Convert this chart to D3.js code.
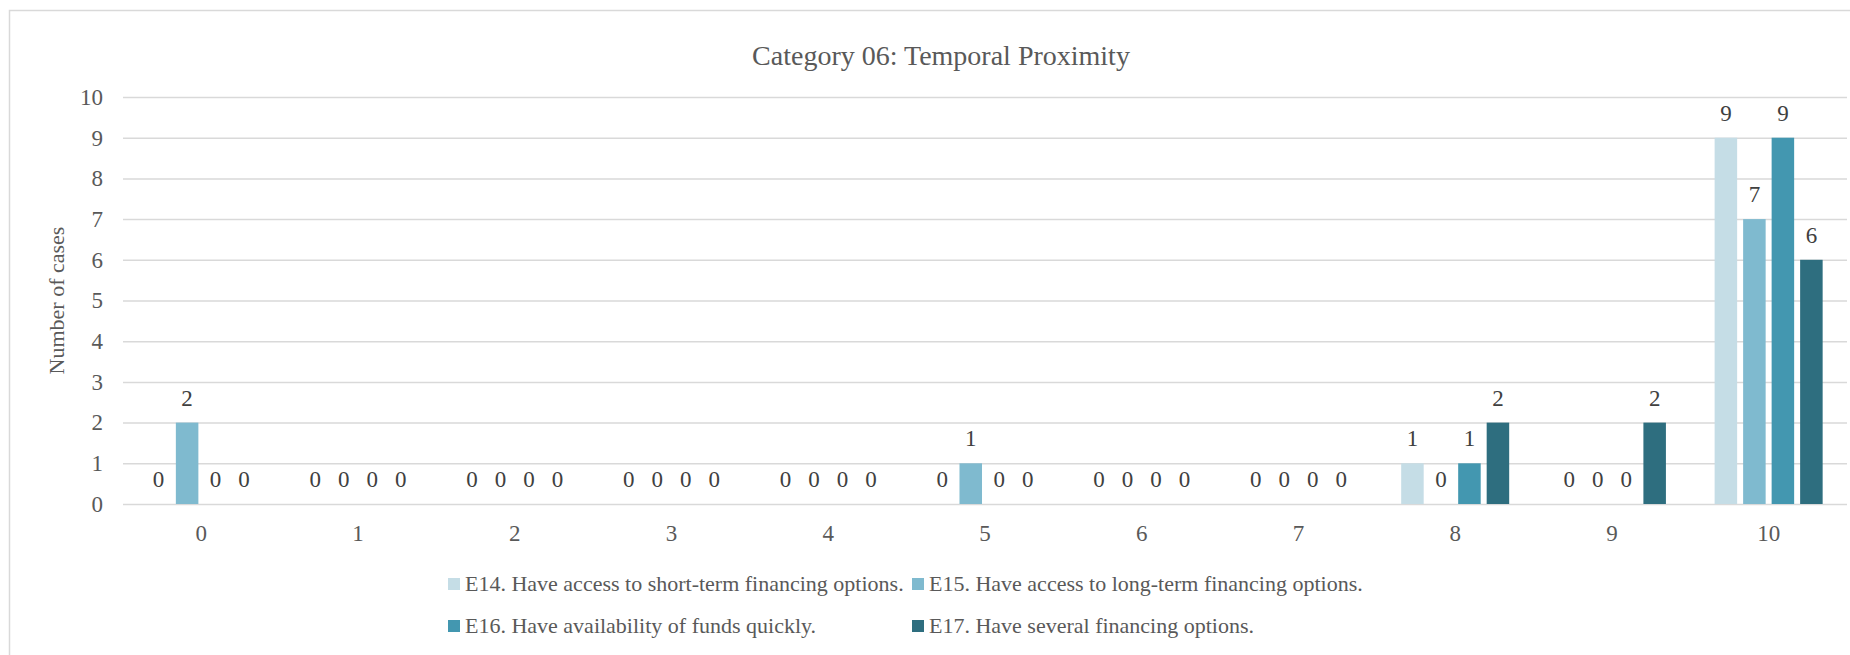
<!DOCTYPE html>
<html>
<head>
<meta charset="utf-8">
<title>Category 06: Temporal Proximity</title>
<style>
    body { margin: 0; background: white; }
    svg text { font-family: "Liberation Serif", "Times New Roman", serif; fill: #595959; }
</style>
<script src="https://cdn.jsdelivr.net/npm/d3@7/dist/d3.min.js"></script>
</head>
<body>
<div id="chart"></div>
<script>
    // values
    var categories = ['0', '1', '2', '3', '4', '5', '6', '7', '8', '9', '10'];
    var seriesNames = [
        'E14. Have access to short-term financing options.',
        'E15. Have access to long-term financing options.',
        'E16. Have availability of funds quickly.',
        'E17. Have several financing options.'
    ];
    var e14 = [0, 0, 0, 0, 0, 0, 0, 0, 1, 0, 9];
    var e15 = [2, 0, 0, 0, 0, 1, 0, 0, 0, 0, 7];
    var e16 = [0, 0, 0, 0, 0, 0, 0, 0, 1, 0, 9];
    var e17 = [0, 0, 0, 0, 0, 0, 0, 0, 2, 2, 6];
    var yTicks = [0, 1, 2, 3, 4, 5, 6, 7, 8, 9, 10];
    var colors = ['#c5dde6', '#7fbacf', '#4397b0', '#2e6e7f'];

    var allSeries = [e14, e15, e16, e17];

    var width = 1850, height = 655;
    var plot = { left: 123, right: 1847, top: 97, bottom: 504 };

    var svg = d3.select('#chart')
        .append('svg')
        .attr('width', width)
        .attr('height', height);

    // chart border
    svg.append('rect')
        .attr('x', 9.5)
        .attr('y', 10.5)
        .attr('width', 1870)
        .attr('height', 670)
        .attr('fill', 'white')
        .attr('stroke', '#d9d9d9')
        .attr('stroke-width', 1.5);

    var x0 = d3.scaleBand()
        .domain(categories)
        .range([plot.left, plot.right])
        .padding(0);

    var groupWidth = 114;
    var x1 = d3.scaleBand()
        .domain(d3.range(allSeries.length))
        .range([0, groupWidth])
        .paddingInner(0.21)
        .paddingOuter(0.105);

    var y = d3.scaleLinear()
        .domain([0, 10])
        .range([plot.bottom, plot.top]);

    // gridlines + y labels
    var yAxis = svg.append('g')
        .attr('transform', 'translate(' + plot.left + ',0)')
        .call(d3.axisLeft(y)
            .tickValues(yTicks)
            .tickSize(-(plot.right - plot.left))
            .tickPadding(20));
    yAxis.select('.domain').remove();
    yAxis.selectAll('.tick line')
        .attr('stroke', '#d9d9d9')
        .attr('stroke-width', 1.5);
    yAxis.selectAll('.tick text')
        .style('font-size', '23px')
        .attr('fill', '#595959');

    // x labels
    var xAxis = svg.append('g')
        .attr('transform', 'translate(0,' + plot.bottom + ')')
        .call(d3.axisBottom(x0).tickSize(0).tickPadding(21));
    xAxis.select('.domain').remove();
    xAxis.selectAll('.tick text')
        .style('font-size', '23px')
        .attr('fill', '#595959');

    // bars
    var groups = svg.append('g')
        .selectAll('g')
        .data(categories)
        .join('g')
        .attr('transform', function(c) {
            return 'translate(' + (x0(c) + (x0.bandwidth() - groupWidth) / 2) + ',0)';
        });

    groups.selectAll('rect')
        .data(function(c, i) {
            return allSeries.map(function(s, k) { return { k: k, v: s[i] }; });
        })
        .join('rect')
        .attr('x', function(d) { return x1(d.k); })
        .attr('width', x1.bandwidth())
        .attr('y', function(d) { return y(d.v); })
        .attr('height', function(d) { return y(0) - y(d.v); })
        .attr('fill', function(d) { return colors[d.k]; });

    // data labels
    groups.selectAll('text')
        .data(function(c, i) {
            return allSeries.map(function(s, k) { return { k: k, v: s[i] }; });
        })
        .join('text')
        .attr('x', function(d) { return x1(d.k) + x1.bandwidth() / 2; })
        .attr('y', function(d) { return y(d.v) - 17; })
        .attr('text-anchor', 'middle')
        .style('font-size', '23px')
        .style('fill', '#404040')
        .text(function(d) { return d.v; });

    // title
    svg.append('text')
        .attr('x', 941)
        .attr('y', 65)
        .attr('text-anchor', 'middle')
        .style('font-size', '28px')
        .text('Category 06: Temporal Proximity');

    // y axis title
    svg.append('text')
        .attr('transform', 'translate(57,' + ((plot.top + plot.bottom) / 2) + ') rotate(-90)')
        .attr('text-anchor', 'middle')
        .attr('dy', '0.32em')
        .style('font-size', '22px')
        .text('Number of cases');

    // legend, two columns by two rows
    var legendCols = [448, 912];
    var legendRows = [591, 633];
    var legend = svg.append('g')
        .selectAll('g')
        .data(seriesNames)
        .join('g')
        .attr('transform', function(d, i) {
            return 'translate(' + legendCols[i % 2] + ',' + legendRows[Math.floor(i / 2)] + ')';
        });
    legend.append('rect')
        .attr('x', 0)
        .attr('y', -13)
        .attr('width', 12)
        .attr('height', 12)
        .attr('fill', function(d, i) { return colors[i]; });
    legend.append('text')
        .attr('x', 17)
        .attr('y', 0)
        .style('font-size', '22px')
        .text(function(d) { return d; });
</script>
</body>
</html>
